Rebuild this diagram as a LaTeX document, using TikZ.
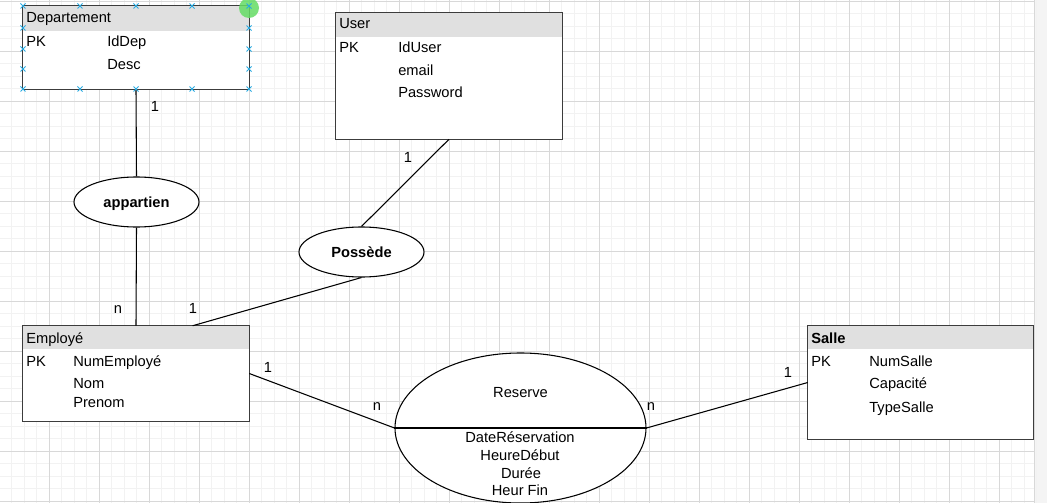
\documentclass[tikz,border=0pt]{standalone}
\usepackage{fontspec}
\setmainfont{Liberation Sans}
\usetikzlibrary{shapes.geometric,calc}
\definecolor{gridminor}{RGB}{242,242,242}
\definecolor{gridmajor}{RGB}{216,216,216}
\definecolor{headgray}{RGB}{224,224,224}
\definecolor{boxline}{RGB}{60,60,60}
\definecolor{selblue}{RGB}{41,170,225}
\definecolor{selgreen}{RGB}{100,220,100}
\definecolor{outside}{RGB}{244,244,244}
\tikzset{
  txt/.style={inner sep=0pt, font=\fontsize{11}{13}\selectfont},
  btxt/.style={txt, font=\fontsize{11}{13}\selectfont\bfseries},
  entity/.style={draw=none, fill=white, inner sep=0pt, rectangle},
  relation/.style={ellipse, draw=black, fill=white, line width=0.8pt, inner sep=0pt},
  link/.style={draw=black, line width=0.8pt},
  border/.style={draw=boxline, line width=0.9pt},
  selmark/.style={draw=selblue, line width=0.7pt},
}
\begin{document}
\begin{tikzpicture}[x=0.75pt,y=-0.75pt]
\useasboundingbox (0,0) rectangle (1047,503);
% background and grid
\fill[white] (0,0) rectangle (1047,503);
\fill[outside] (1034,0) rectangle (1047,503);
\foreach \i in {0,...,83} { \draw[gridminor, line width=0.6pt] ({\i*12.5-1},0) -- ({\i*12.5-1},503); }
\foreach \j in {0,...,40} { \draw[gridminor, line width=0.6pt] (0,{\j*12.5+1}) -- (1034,{\j*12.5+1}); }
\foreach \i in {1,...,20} { \draw[gridmajor, line width=0.7pt] ({\i*50-1},0) -- ({\i*50-1},503); }
\foreach \j in {0,...,10} { \draw[gridmajor, line width=0.7pt] (0,{\j*50+1}) -- (1034,{\j*50+1}); }
\draw[gridmajor, line width=0.7pt] (1034,0) -- (1034,503);

% entities
\node[entity, minimum width=169.5pt, minimum height=62.25pt] (dep) at (136,47.5) {};
\node[entity, minimum width=169.5pt, minimum height=94.5pt] (user) at (449,76) {};
\node[entity, minimum width=169.5pt, minimum height=71.25pt] (emp) at (136,373.5) {};
\node[entity, minimum width=168.75pt, minimum height=84.75pt] (salle) at (920.5,382.5) {};

\fill[headgray] (dep.north west) rectangle ($(dep.north east)+(0,25)$);
\fill[headgray] (user.north west) rectangle ($(user.north east)+(0,24)$);
\fill[headgray] (emp.north west) rectangle ($(emp.north east)+(0,23)$);
\fill[headgray] (salle.north west) rectangle ($(salle.north east)+(0,23)$);

\draw[border] (dep.north west) rectangle (dep.south east);
\draw[border] (user.north west) rectangle (user.south east);
\draw[border] (emp.north west) rectangle (emp.south east);
\draw[border] (salle.north west) rectangle (salle.south east);

% entity texts
\node[txt, anchor=base west] (depT) at (26,23) {Departement};
\node[txt, anchor=base west] (depPK) at (26,47) {PK};
\node[txt, anchor=base west] (depA1) at (107,47) {IdDep};
\node[txt, anchor=base west] (depA2) at (107,70) {Desc};

\node[txt, anchor=base west] (userT) at (339,29) {User};
\node[txt, anchor=base west] (userPK) at (339,53) {PK};
\node[txt, anchor=base west] (userA1) at (398,53) {IdUser};
\node[txt, anchor=base west] (userA2) at (398,76) {email};
\node[txt, anchor=base west] (userA3) at (398,98) {Password};

\node[txt, anchor=base west] (empT) at (26,343) {Employé};
\node[txt, anchor=base west] (empPK) at (26,366) {PK};
\node[txt, anchor=base west] (empA1) at (73,366) {NumEmployé};
\node[txt, anchor=base west] (empA2) at (73,388) {Nom};
\node[txt, anchor=base west] (empA3) at (73,407) {Prenom};

\node[btxt, anchor=base west] (salleT) at (811,343) {Salle};
\node[txt, anchor=base west] (sallePK) at (811,366) {PK};
\node[txt, anchor=base west] (salleA1) at (869,366) {NumSalle};
\node[txt, anchor=base west] (salleA2) at (869,388) {Capacité};
\node[txt, anchor=base west] (salleA3) at (869,412) {TypeSalle};

% relations
\node[relation, minimum width=93.75pt, minimum height=37.5pt] (app) at (136.5,202) {};
\node[btxt, anchor=base] (appT) at (136.5,207) {appartien};
\node[relation, minimum width=93.75pt, minimum height=37.5pt] (pos) at (361.5,252) {};
\node[btxt, anchor=base] (posT) at (361.5,257) {Possède};
\node[relation, minimum width=188.25pt, minimum height=112.5pt] (res) at (520.5,428) {};
\draw[link] (res.west) -- (res.east);
\node[txt, anchor=base] (resT) at (520.5,397) {Reserve};
\node[txt, anchor=base] (resA1) at (520,442) {DateRéservation};
\node[txt, anchor=base] (resA2) at (520,460) {HeureDébut};
\node[txt, anchor=base] (resA3) at (521,478) {Durée};
\node[txt, anchor=base] (resA4) at (520,495) {Heur Fin};

% connectors
\coordinate (empTop) at ($(emp.north west)!0.75!(emp.north east)$);
\draw[link] (dep.south) -- (app.north);
\draw[link] (app.south) -- (emp.north);
\draw[link] (pos.north) -- (user.south);
\draw[link] (pos.south) -- (empTop);
\draw[link] (emp.east) -- (res.west);
\draw[link] (res.east) -- (salle.west);

% cardinalities
\node[txt, anchor=base] (c1) at (155,112) {1};
\node[txt, anchor=base] (c2) at (118,313) {n};
\node[txt, anchor=base] (c3) at (193,313) {1};
\node[txt, anchor=base] (c4) at (408,162) {1};
\node[txt, anchor=base] (c5) at (268,372) {1};
\node[txt, anchor=base] (c6) at (377,410) {n};
\node[txt, anchor=base] (c7) at (651,410) {n};
\node[txt, anchor=base] (c8) at (788,377) {1};

% selection handles
\fill[selgreen, opacity=0.85] (249,8) circle[radius=7.5pt];
\foreach \px/\py in {23/6,80/6,136/6,192/6,249/6,
                23/89,80/89,136/89,192/89,249/89,
                23/28,23/49,23/69,249/28,249/49,249/69} {
  \draw[selmark] (\px-2.5,\py-2.5) -- (\px+2.5,\py+2.5);
  \draw[selmark] (\px-2.5,\py+2.5) -- (\px+2.5,\py-2.5);
}
\end{tikzpicture}
\end{document}
